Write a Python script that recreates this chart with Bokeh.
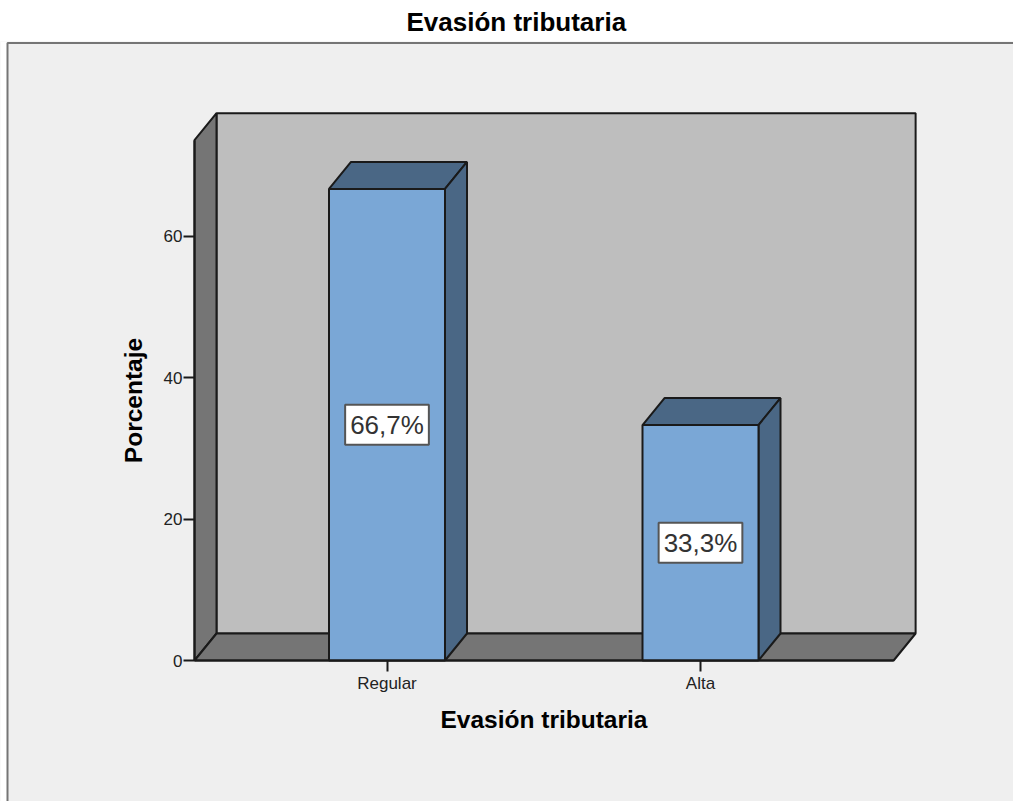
from bokeh.plotting import figure
from bokeh.models import Range1d, FixedTicker, Label
from bokeh.embed import file_html
from bokeh.resources import INLINE

# ---- data ----
categories = ["Regular", "Alta"]
percentages = [66.7, 33.3]
y_ticks = [0, 20, 40, 60]
title_text = "Evasión tributaria"
x_title = "Evasión tributaria"
y_title = "Porcentaje"

# ---- style ----
FONT = "Liberation Sans"
PANEL = "#efefef"
WALL = "#bebebe"
DARK_WALL = "#757575"
FRONT = "#7aa7d6"
SIDE = "#4a6785"
EDGE = "#1a1a1a"

W, H, TOP = 1013, 801, 41
PX_X, PX_Y = 313.5, 7.07          # pixels per category, pixels per percent
X_AT_0 = 1 - 386.5 / PX_X         # x value at canvas left
Y_AT_BOTTOM = -(H - 660) / PX_Y   # y value at canvas bottom

X0, X1 = 0.386, 2.616
Y0, Y1 = 0.0, 73.6
BAR_W = 0.37
DX = 22 / PX_X
DY = 27 / PX_Y

xs_pos = [i + 1 for i in range(len(categories))]

x_range = Range1d(X_AT_0, X_AT_0 + W / PX_X)
y_range = Range1d(Y_AT_BOTTOM, Y_AT_BOTTOM + (H - TOP) / PX_Y)

p = figure(width=W, height=H, x_range=x_range, y_range=y_range,
           output_backend="svg", toolbar_location=None,
           min_border_left=0, min_border_right=0, min_border_bottom=0, min_border_top=TOP,
           title=title_text)
p.border_fill_color = "white"
p.background_fill_color = PANEL
p.outline_line_color = None
p.grid.visible = False

p.title.align = "left"
p.title.offset = 406
p.title.standoff = 9
p.title.text_font = FONT
p.title.text_font_size = "26px"
p.title.text_font_style = "bold"
p.title.text_color = "#000000"

# panel frame: white strip at left, then the left and top lines
fx = x_range.start + 7 / PX_X
fy = y_range.end - 1.5 / PX_Y
p.patch([x_range.start, fx, fx, x_range.start],
        [y_range.start, y_range.start, y_range.end, y_range.end],
        fill_color="white", line_color=None)
p.patch([x_range.start, fx, fx, x_range.start],
        [fy, fy, y_range.end, y_range.end],
        fill_color="white", line_color=None)
p.line([fx, fx, x_range.end], [y_range.start, fy, fy], line_color="#757575", line_width=2)


def poly(xs, ys, color):
    p.patch(xs, ys, fill_color=color, line_color=EDGE, line_width=2)


# back wall, left wall, floor
poly([X0 + DX, X1 + DX, X1 + DX, X0 + DX], [Y0 + DY, Y0 + DY, Y1 + DY, Y1 + DY], WALL)
poly([X0, X0 + DX, X0 + DX, X0], [Y0, Y0 + DY, Y1 + DY, Y1], DARK_WALL)
poly([X0, X1, X1 + DX, X0 + DX], [Y0, Y0, Y0 + DY, Y0 + DY], DARK_WALL)

# bars: top and side faces, then front
top_x, top_y, side_x, side_y = [], [], [], []
for x, v in zip(xs_pos, percentages):
    l, r = x - BAR_W / 2, x + BAR_W / 2
    top_x.append([l, r, r + DX, l + DX])
    top_y.append([v, v, v + DY, v + DY])
    side_x.append([r, r + DX, r + DX, r])
    side_y.append([0, DY, v + DY, v])
p.patches(top_x, top_y, fill_color=SIDE, line_color=EDGE, line_width=2)
p.patches(side_x, side_y, fill_color=SIDE, line_color=EDGE, line_width=2)
p.vbar(x=xs_pos, top=percentages, width=BAR_W, bottom=0,
       fill_color=FRONT, line_color=EDGE, line_width=2)

# value labels
for x, v in zip(xs_pos, percentages):
    p.add_layout(Label(x=x, y=v / 2, text=f"{v:.1f}%".replace(".", ","),
                       text_align="center", text_baseline="middle",
                       text_font=FONT, text_font_size="26px", text_color="#333333",
                       background_fill_color="white", border_line_color="#555555",
                       border_line_width=2, padding=5))

# axes
xa = p.xaxis[0]
xa.ticker = FixedTicker(ticks=xs_pos)
xa.major_label_overrides = {x: c for x, c in zip(xs_pos, categories)}
xa.axis_label = x_title
xa.fixed_location = Y0
xa.bounds = (X0, X1)
ya = p.yaxis[0]
ya.ticker = FixedTicker(ticks=y_ticks)
ya.axis_label = y_title
ya.fixed_location = X0
ya.bounds = (Y0, Y1)
for a in (xa, ya):
    a.axis_line_color = EDGE
    a.axis_line_width = 2
    a.major_tick_line_color = EDGE
    a.major_tick_line_width = 2
    a.major_tick_in = 0
    a.minor_tick_line_color = None
    a.major_label_text_font = FONT
    a.major_label_text_font_size = "17px"
    a.major_label_text_color = "#222222"
    a.axis_label_text_font = FONT
    a.axis_label_text_font_size = "24.5px"
    a.axis_label_text_font_style = "bold"
    a.axis_label_text_color = "#000000"
xa.major_tick_out = 11
ya.major_tick_out = 11
xa.major_label_standoff = 2
ya.major_label_standoff = 1
xa.axis_label_standoff = 10
ya.axis_label_standoff = 14

open("out.html", "w").write(file_html(p, INLINE))
